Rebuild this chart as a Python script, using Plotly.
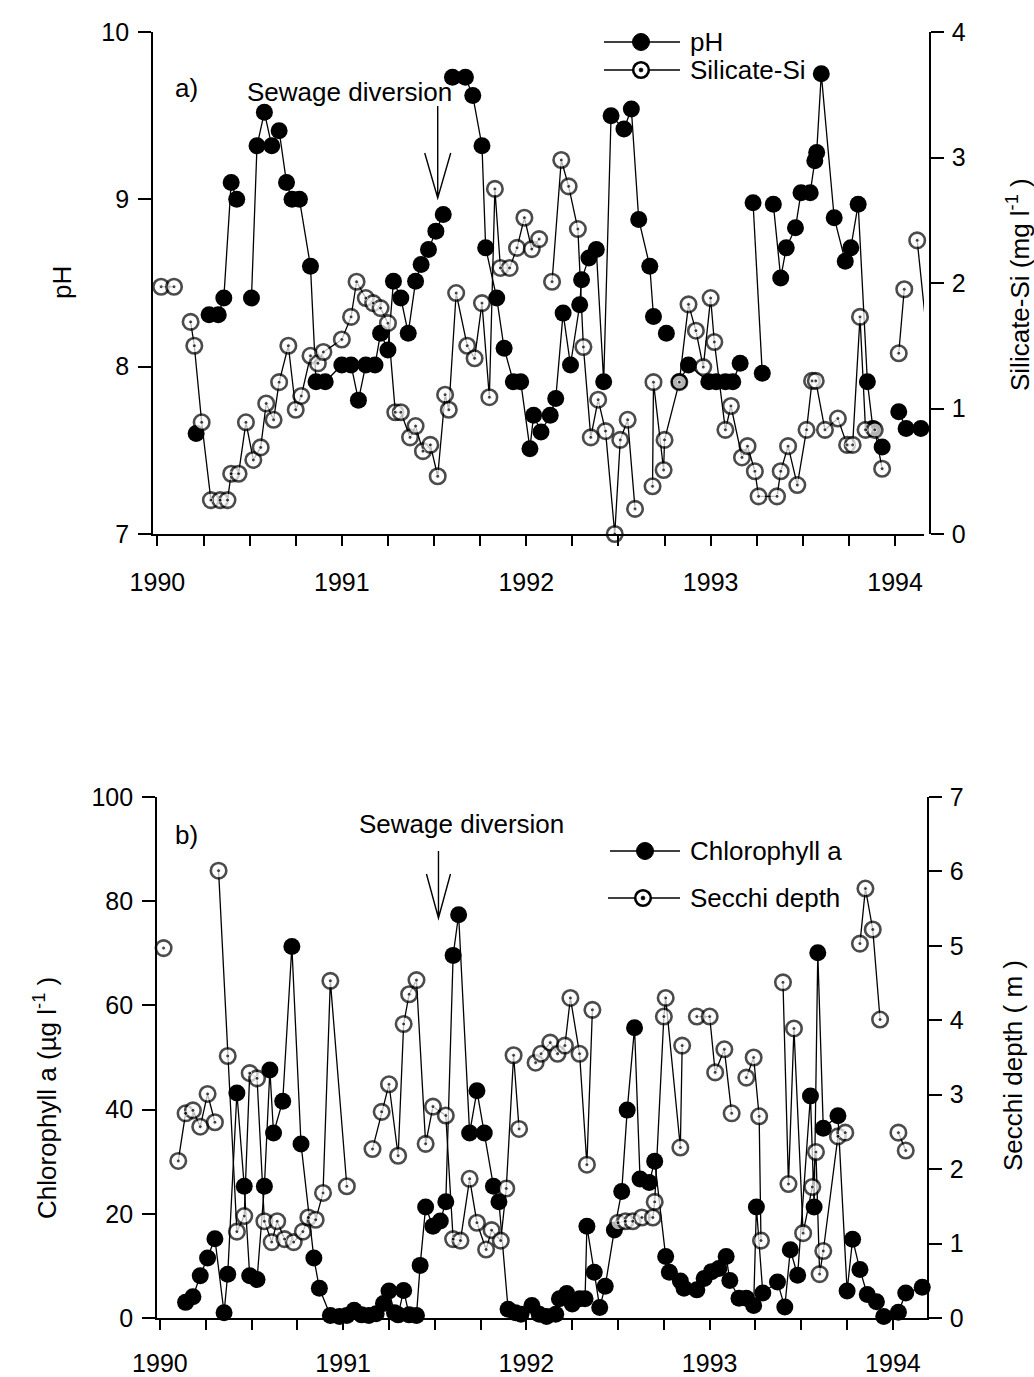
import plotly.graph_objects as go

W, H = 1034, 1377
FONT = "Liberation Sans"
G = None  # gap in a series (no line drawn across)

# ---------------- Panel a: pH and Silicate-Si ----------------
ph_year = [1990.21, G, 1990.28, 1990.33, 1990.36, 1990.40, 1990.43, G,
           1990.51, 1990.54, 1990.58, 1990.62, 1990.66, 1990.70, 1990.73, 1990.77,
           1990.83, 1990.86, 1990.91, 1991.00, 1991.05, 1991.09, 1991.13, 1991.18,
           1991.21, 1991.25, 1991.28, 1991.32, 1991.36, 1991.40, 1991.43, 1991.47,
           1991.51, 1991.55, G, 1991.60, 1991.67, 1991.71, 1991.76, 1991.78, 1991.84,
           1991.88, 1991.93, 1991.97, 1992.02, 1992.04, 1992.08, 1992.13, 1992.16,
           1992.20, 1992.24, 1992.29, 1992.30, 1992.34, 1992.38, 1992.42, 1992.46,
           1992.53, 1992.57, 1992.61, 1992.67, 1992.69, G, 1992.76, G, 1992.83,
           1992.88, 1992.99, 1993.03, 1993.08, 1993.12, 1993.16, G, 1993.23, 1993.28, G,
           1993.34, 1993.38, 1993.41, 1993.46, 1993.49, 1993.54, 1993.565, 1993.575,
           1993.60, 1993.67, 1993.73, 1993.76, 1993.80, 1993.85, 1993.88, 1993.93, G,
           1994.02, 1994.06, 1994.14]
ph_value = [7.60, G, 8.31, 8.31, 8.41, 9.10, 9.00, G,
            8.41, 9.32, 9.52, 9.32, 9.41, 9.10, 9.00, 9.00,
            8.60, 7.91, 7.91, 8.01, 8.01, 7.80, 8.01, 8.01,
            8.20, 8.10, 8.51, 8.41, 8.20, 8.51, 8.61, 8.70,
            8.81, 8.91, G, 9.73, 9.73, 9.62, 9.32, 8.71, 8.41,
            8.11, 7.91, 7.91, 7.51, 7.71, 7.61, 7.71, 7.81,
            8.32, 8.01, 8.37, 8.52, 8.65, 8.70, 7.91, 9.50,
            9.42, 9.54, 8.88, 8.60, 8.30, G, 8.20, G, 7.91,
            8.01, 7.91, 7.91, 7.91, 7.91, 8.02, G, 8.98, 7.96, G,
            8.97, 8.53, 8.71, 8.83, 9.04, 9.04, 9.23, 9.28,
            9.75, 8.89, 8.63, 8.71, 8.97, 7.91, 7.63, 7.52, G,
            7.73, 7.63, 7.63]

si_year = [1990.02, 1990.09, G, 1990.18, 1990.20, 1990.24, 1990.29, 1990.34, 1990.38,
           1990.40, 1990.44, 1990.48, 1990.52, 1990.56, 1990.59, 1990.63, 1990.66,
           1990.71, 1990.75, 1990.78, 1990.83, 1990.87, 1990.90, 1991.00, 1991.05,
           1991.08, 1991.13, 1991.17, 1991.21, 1991.25, 1991.29, 1991.32, 1991.37,
           1991.40, 1991.44, 1991.48, 1991.52, 1991.56, 1991.58, 1991.62, 1991.68,
           1991.72, 1991.76, 1991.80, 1991.83, 1991.86, 1991.91, 1991.95, 1991.99,
           1992.03, 1992.07, G, 1992.14, 1992.19, 1992.23, 1992.28, 1992.31, 1992.35,
           1992.39, 1992.43, 1992.48, 1992.51, 1992.55, 1992.59, G, 1992.685, 1992.69,
           1992.745, 1992.75, 1992.83, 1992.88, 1992.92, 1992.96, 1993.00, 1993.02,
           1993.08, 1993.11, 1993.17, 1993.20, 1993.24, 1993.26, 1993.36, 1993.38,
           1993.42, 1993.47, 1993.52, 1993.55, 1993.57, 1993.62, 1993.69, 1993.74,
           1993.77, 1993.81, 1993.84, 1993.89, 1993.93, G, 1994.02, 1994.05, G,
           1994.12, 1994.20]
si_value = [1.97, 1.97, G, 1.69, 1.50, 0.89, 0.27, 0.27, 0.27,
            0.48, 0.48, 0.89, 0.59, 0.69, 1.04, 0.91, 1.21,
            1.50, 0.99, 1.10, 1.42, 1.36, 1.45, 1.55, 1.73,
            2.01, 1.88, 1.84, 1.80, 1.68, 0.97, 0.97, 0.77,
            0.86, 0.66, 0.71, 0.46, 1.11, 0.99, 1.92, 1.50,
            1.40, 1.84, 1.09, 2.75, 2.12, 2.12, 2.28, 2.52,
            2.27, 2.35, G, 2.01, 2.98, 2.77, 2.43, 1.49, 0.77,
            1.07, 0.82, 0.00, 0.75, 0.91, 0.20, G, 0.38, 1.21,
            0.51, 0.75, 1.21, 1.83, 1.62, 1.33, 1.88, 1.53,
            0.83, 1.02, 0.61, 0.70, 0.50, 0.30, 0.30, 0.50,
            0.70, 0.39, 0.83, 1.22, 1.22, 0.83, 0.92, 0.71,
            0.71, 1.73, 0.83, 0.83, 0.52, G, 1.44, 1.95, G,
            2.34, 1.20]

# ---------------- Panel b: Chlorophyll a and Secchi depth ----------------
chl_year = [1990.14, 1990.18, 1990.22, 1990.26, 1990.30, 1990.35, 1990.37, 1990.42,
            1990.46, 1990.49, 1990.53, 1990.57, 1990.60, 1990.62, 1990.67, 1990.72,
            1990.77, 1990.84, 1990.87, 1990.93, 1990.98, 1991.02, 1991.06, 1991.10,
            1991.14, 1991.18, 1991.22, 1991.25, 1991.28, 1991.30, 1991.33, 1991.36,
            1991.40, 1991.42, 1991.45, 1991.49, 1991.53, 1991.56, 1991.60, 1991.63,
            1991.69, 1991.73, 1991.77, 1991.82, 1991.85, 1991.90, 1991.94, 1991.97,
            1992.03, 1992.07, 1992.11, 1992.16, 1992.18, 1992.22, 1992.25, 1992.29,
            1992.32, 1992.33, 1992.37, 1992.40, 1992.43, 1992.48, 1992.52, 1992.55,
            1992.59, 1992.62, 1992.67, 1992.70, 1992.76, 1992.78, 1992.84, 1992.86,
            1992.93, 1992.97, 1993.01, 1993.05, 1993.09, 1993.11, 1993.16, 1993.20,
            1993.24, 1993.255, 1993.29, 1993.37, 1993.41, 1993.44, 1993.48, 1993.55,
            1993.57, 1993.59, 1993.62, 1993.70, 1993.75, 1993.78, 1993.82, 1993.86,
            1993.91, 1993.95, G, 1994.03, 1994.07, 1994.16]
chl_value = [3.0, 4.1, 8.1, 11.5, 15.2, 1.0, 8.4, 43.2,
             25.3, 8.1, 7.4, 25.3, 47.6, 35.5, 41.6, 71.3,
             33.4, 11.5, 5.7, 0.5, 0.3, 0.5, 1.5, 0.6,
             0.5, 0.8, 2.8, 5.2, 1.0, 0.6, 5.3, 0.6,
             0.5, 10.1, 21.3, 17.6, 18.6, 22.3, 69.6, 77.4,
             35.5, 43.6, 35.5, 25.3, 22.3, 1.7, 1.0, 0.7,
             2.4, 0.7, 0.3, 0.7, 3.7, 4.7, 2.7, 3.7,
             3.7, 17.6, 8.8, 2.0, 6.1, 16.9, 24.3, 39.9,
             55.7, 26.7, 26.0, 30.1, 11.8, 8.8, 7.1, 5.7,
             5.4, 7.6, 8.9, 9.5, 11.8, 7.2, 3.8, 3.8,
             2.4, 21.3, 4.8, 6.9, 2.1, 13.1, 8.2, 42.6,
             21.3, 70.1, 36.4, 38.8, 5.2, 15.1, 9.3, 4.5,
             3.1, 0.3, G, 1.1, 4.8, 5.9]

secchi_year = [1990.02, G, 1990.10, 1990.14, 1990.18, 1990.22, 1990.26, 1990.30, G,
               1990.32, 1990.37, 1990.42, 1990.46, 1990.49, 1990.53, 1990.57, 1990.61,
               1990.64, 1990.68, 1990.73, 1990.78, 1990.81, 1990.85, 1990.89, 1990.93,
               1991.02, G, 1991.16, 1991.21, 1991.25, 1991.30, 1991.33, 1991.36, 1991.40,
               1991.45, 1991.49, 1991.56, 1991.60, 1991.64, 1991.69, 1991.73, 1991.78,
               1991.81, 1991.86, 1991.89, 1991.93, 1991.96, G, 1992.05, 1992.08, 1992.13,
               1992.17, 1992.21, 1992.24, 1992.29, 1992.33, 1992.36, G, 1992.50, 1992.54,
               1992.58, 1992.63, 1992.69, 1992.70, 1992.75, 1992.76, 1992.84, 1992.85, G,
               1992.93, 1993.00, 1993.03, 1993.08, 1993.12, G, 1993.20, 1993.24, 1993.27,
               1993.28, G, 1993.40, 1993.43, 1993.46, 1993.51, 1993.56, 1993.58, 1993.60,
               1993.62, 1993.70, 1993.74, G, 1993.82, 1993.85, 1993.89, 1993.93, G,
               1994.03, 1994.07]
secchi_value = [4.97, G, 2.11, 2.75, 2.79, 2.57, 3.01, 2.63, G,
                6.01, 3.52, 1.16, 1.37, 3.29, 3.22, 1.30, 1.02,
                1.30, 1.06, 1.02, 1.16, 1.35, 1.32, 1.68, 4.53,
                1.77, G, 2.27, 2.77, 3.14, 2.18, 3.95, 4.35, 4.54,
                2.34, 2.84, 2.72, 1.06, 1.04, 1.87, 1.28, 0.92,
                1.18, 1.04, 1.74, 3.53, 2.54, G, 3.43, 3.55, 3.70,
                3.55, 3.66, 4.30, 3.55, 2.06, 4.14, G, 1.28, 1.30,
                1.30, 1.35, 1.35, 1.56, 4.05, 4.30, 2.29, 3.66, G,
                4.05, 4.05, 3.30, 3.61, 2.75, G, 3.23, 3.50, 2.71,
                1.04, G, 4.51, 1.80, 3.89, 1.14, 1.76, 2.23, 0.59,
                0.90, 2.44, 2.49, G, 5.03, 5.77, 5.22, 4.01, G,
                2.49, 2.25]

diversion_year = 1991.52

# ---------------- layout geometry (pixels of the 1034x1377 page) ----------------
A_X = (153, 924); A_RIGHT_AXIS = 930; A_Y = (32, 534)
B_X = (157, 927); B_Y = (797, 1318)
A_RANGE = [1989.976, 1994.157]
B_RANGE = [1989.984, 1994.186]


def fx(p):
    return p / W


def fy(p):
    return 1 - p / H


line_style = dict(color="black", width=1.3)
filled_marker = dict(symbol="circle", size=17, color="black")


def sizes_in_range(years, xmax, s):
    return [s if (t is not None and t <= xmax) else 0 for t in years]


def open_marker(years, xmax):
    return dict(symbol="circle", size=sizes_in_range(years, xmax, 15.5), color="white",
                line=dict(color="black", width=2.6))


def dot_marker(years, xmax):
    return dict(symbol="circle", size=sizes_in_range(years, xmax, 4), color="black")


fig = go.Figure()
fig.add_trace(go.Scatter(x=ph_year, y=ph_value, mode="lines+markers", line=line_style,
                         marker=filled_marker, xaxis="x", yaxis="y", cliponaxis=False,
                         showlegend=False, name="pH"))
fig.add_trace(go.Scatter(x=si_year, y=si_value, mode="lines+markers", line=line_style,
                         marker=open_marker(si_year, A_RANGE[1]), xaxis="x", yaxis="y2",
                         cliponaxis=False, showlegend=False, name="Silicate-Si"))
fig.add_trace(go.Scatter(x=si_year, y=si_value, mode="markers",
                         marker=dot_marker(si_year, A_RANGE[1]), xaxis="x", yaxis="y2",
                         cliponaxis=False, showlegend=False, hoverinfo="skip"))
fig.add_trace(go.Scatter(x=chl_year, y=chl_value, mode="lines+markers", line=line_style,
                         marker=filled_marker, xaxis="x2", yaxis="y3", cliponaxis=False,
                         showlegend=False, name="Chlorophyll a"))
fig.add_trace(go.Scatter(x=secchi_year, y=secchi_value, mode="lines+markers", line=line_style,
                         marker=open_marker(secchi_year, B_RANGE[1]), xaxis="x2", yaxis="y4",
                         cliponaxis=False, showlegend=False, name="Secchi depth"))
fig.add_trace(go.Scatter(x=secchi_year, y=secchi_value, mode="markers",
                         marker=dot_marker(secchi_year, B_RANGE[1]), xaxis="x2", yaxis="y4",
                         cliponaxis=False, showlegend=False, hoverinfo="skip"))

tickfont = dict(family=FONT, size=25, color="black")
common = dict(showline=True, linecolor="black", linewidth=1.7, ticks="outside",
              tickcolor="black", tickwidth=1.6, showgrid=False, zeroline=False,
              tickfont=tickfont, fixedrange=True)
minor = dict(dtick=0.25, tick0=1990, ticks="outside", ticklen=10, tickcolor="black",
             tickwidth=1.6, showgrid=False)

fig.update_layout(
    width=W, height=H,
    margin=dict(l=0, r=0, t=0, b=0, autoexpand=False),
    plot_bgcolor="white", paper_bgcolor="white",
    font=dict(family=FONT, size=25, color="black"),
    xaxis=dict(common, domain=[fx(A_X[0]), fx(A_X[1])], range=A_RANGE, anchor="y",
               tick0=1990, dtick=1, ticklen=10, tickformat="d", minor=minor,
               ticklabelstandoff=15),
    yaxis=dict(common, domain=[fy(A_Y[1]), fy(A_Y[0])], range=[7, 10], dtick=1,
               ticklen=13, anchor="x", ticklabelstandoff=4),
    yaxis2=dict(common, overlaying="y", side="right", anchor="free",
                position=fx(A_RIGHT_AXIS), range=[0, 4], dtick=1, ticklen=13,
                ticklabelstandoff=3),
    xaxis2=dict(common, domain=[fx(B_X[0]), fx(B_X[1])], range=B_RANGE, anchor="y3",
                tick0=1990, dtick=1, ticklen=10, tickformat="d", minor=minor,
                ticklabelstandoff=12),
    yaxis3=dict(common, domain=[fy(B_Y[1]), fy(B_Y[0])], range=[0, 100], dtick=20,
                ticklen=13, anchor="x2", ticklabelstandoff=4),
    yaxis4=dict(common, overlaying="y3", side="right", anchor="x2", range=[0, 7],
                dtick=1, ticklen=13, ticklabelstandoff=3),
)

ann = []


def text(x, y, s, angle=0, xanchor="center", size=26):
    ann.append(dict(x=fx(x), y=fy(y), xref="paper", yref="paper", text=s,
                    showarrow=False, textangle=angle, xanchor=xanchor, yanchor="middle",
                    font=dict(family=FONT, size=size, color="black")))


text(62, 283, "pH", -90)
text(1018, 285, "Silicate-Si (mg l<sup>-1</sup> )", -90)
text(45, 1098, "Chlorophyll a (µg l<sup>-1</sup> )", -90)
text(1013, 1066, "Secchi depth ( m )", -90)
text(186, 88, "a)")
text(186, 835, "b)")
text(349, 92, "Sewage diversion")
text(461, 824, "Sewage diversion")

shapes = []


def arrow(xref, xval, top, tip, wing_y, half):
    L = tip - top
    w = wing_y - top
    path = f"M0,0 L0,{-L} M{-half},{-w} L0,{-L} L{half},{-w}"
    shapes.append(dict(type="path", xref=xref, yref="paper", xsizemode="pixel",
                       ysizemode="pixel", xanchor=xval, yanchor=fy(top), path=path,
                       line=dict(color="black", width=1.4)))


arrow("x", diversion_year, 106, 198, 153, 13)
arrow("x2", diversion_year, 851, 918, 874, 12)


def legend_row(x0, x1, xm, y, label, is_open):
    shapes.append(dict(type="line", xref="paper", yref="paper", x0=fx(x0), x1=fx(x1),
                       y0=fy(y), y1=fy(y), line=dict(color="black", width=1.3)))
    r = 7.8 if is_open else 8.5
    shapes.append(dict(type="circle", xref="paper", yref="paper", xsizemode="pixel",
                       ysizemode="pixel", xanchor=fx(xm), yanchor=fy(y),
                       x0=-r, x1=r, y0=-r, y1=r,
                       fillcolor="white" if is_open else "black",
                       line=dict(color="black", width=2.6 if is_open else 1)))
    if is_open:
        shapes.append(dict(type="circle", xref="paper", yref="paper", xsizemode="pixel",
                           ysizemode="pixel", xanchor=fx(xm), yanchor=fy(y),
                           x0=-2, x1=2, y0=-2, y1=2, fillcolor="black",
                           line=dict(color="black", width=0.5)))
    text(x1 + 8, y, label, xanchor="left")


legend_row(604, 680, 641, 42, "pH", False)
legend_row(604, 680, 641, 70, "Silicate-Si", True)
legend_row(610, 680, 645, 851, "Chlorophyll a", False)
legend_row(608, 680, 643, 898, "Secchi depth", True)

fig.update_layout(annotations=ann, shapes=shapes)
fig.write_html("out.html", config={"displayModeBar": False})
